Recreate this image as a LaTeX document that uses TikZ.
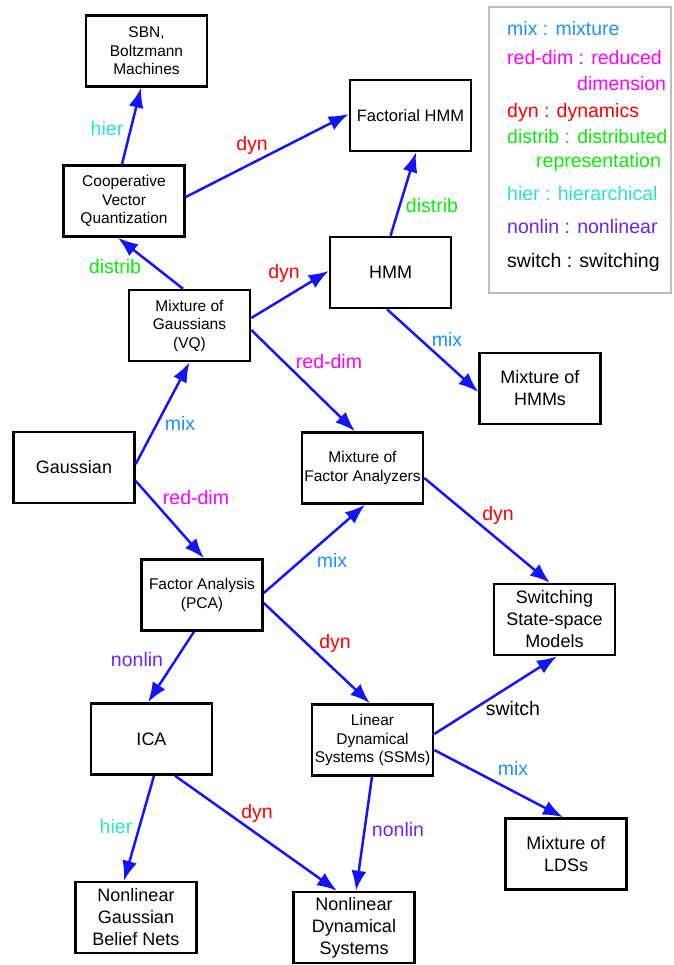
\documentclass[tikz,border=0pt]{standalone}
\usepackage{fontspec}
\setmainfont{Liberation Sans}
\usetikzlibrary{arrows.meta,calc}
\definecolor{arrblue}{RGB}{20,20,250}
\definecolor{cmix}{RGB}{30,144,255}
\definecolor{credd}{RGB}{255,0,255}
\definecolor{cdyn}{RGB}{255,0,0}
\definecolor{cdist}{RGB}{10,235,10}
\definecolor{chier}{RGB}{40,228,200}
\definecolor{cnonl}{RGB}{105,35,255}
\definecolor{clegend}{RGB}{190,190,190}
\newcommand{\smallf}{\fontsize{15.5}{18.5}\selectfont}
\newcommand{\midf}{\fontsize{16.5}{19.5}\selectfont}
\newcommand{\largef}{\fontsize{18}{22}\selectfont}
\newcommand{\labf}{\fontsize{19.5}{23}\selectfont}
\tikzset{
  box/.style={draw, line width=2.5pt, minimum width=121pt, minimum height=71pt, inner sep=0pt, align=center, font=\smallf},
  bigbox/.style={box, font=\largef},
  arr/.style={draw=arrblue, line width=2.5pt, -{Latex[length=20pt,width=15pt]}},
  lab/.style={font=\labf, inner sep=0pt},
  leg/.style={font=\labf, inner sep=0pt, anchor=base west}
}
\begin{document}
\begin{tikzpicture}[x=1pt,y=-1pt]
\useasboundingbox (0,0) rectangle (673,965);
% nodes
\node[box] (sbn) at (146.5,51) {SBN,\\Boltzmann\\Machines};
\node[box] (cvq) at (124,201) {Cooperative\\Vector\\Quantization};
\node[box, font=\midf] (fhmm) at (410.5,115.5) {Factorial HMM};
\node[bigbox] (hmm) at (390.5,272.5) {HMM};
\node[bigbox] (mhmm) at (540,388.5) {Mixture of\\HMMs};
\node[box] (mog) at (189.5,325.5) {Mixture of\\Gaussians\\(VQ)};
\node[box] (mfa) at (362.5,468) {Mixture of\\Factor Analyzers};
\node[bigbox] (gau) at (74,467.5) {Gaussian};
\node[box] (fa) at (202,595) {Factor Analysis\\(PCA)};
\node[bigbox] (sssm) at (554.5,619.5) {Switching\\State-space\\Models};
\node[box] (lds) at (372.5,740) {Linear\\Dynamical\\Systems (SSMs)};
\node[bigbox] (ica) at (151.5,739) {ICA};
\node[bigbox] (mlds) at (566,854) {Mixture of\\LDSs};
\node[bigbox] (ngbn) at (136,917.5) {Nonlinear\\Gaussian\\Belief Nets};
\node[bigbox] (nds) at (354,927.5) {Nonlinear\\Dynamical\\Systems};
% arrows
\draw[arr] ($(cvq.north)+(-2,0)$) -- ($(sbn.south)+(-5.5,0)$);
\draw[arr] ($(cvq.east)+(0,-4)$) -- ($(fhmm.west)+(0,-1.5)$);
\draw[arr] ($(mog.north)+(-6.5,0)$) -- ($(cvq.south)+(-6,0)$);
\draw[arr] ($(mog.east)+(0,-7.5)$) -- ($(hmm.west)+(0,-1.5)$);
\draw[arr] (hmm.north) -- ($(fhmm.south)+(5.5,0)$);
\draw[arr] ($(hmm.south)+(-3.5,0)$) -- ($(mhmm.west)+(0,3.5)$);
\draw[arr] ($(mog.east)+(0,4.5)$) -- ($(mfa.north)+(-7.5,0)$);
\draw[arr] ($(gau.east)+(0,-3.5)$) -- (mog.south);
\draw[arr] ($(gau.east)+(0,13.5)$) -- ($(fa.north)+(2,0)$);
\draw[arr] ($(fa.east)+(0,-2)$) -- ($(mfa.south)+(2.5,0)$);
\draw[arr] ($(fa.east)+(0,8)$) -- ($(lds.north)+(-2.5,0)$);
\draw[arr] ($(fa.south)+(-8,0)$) -- ($(ica.north)+(-3.5,0)$);
\draw[arr] ($(mfa.east)+(0,10)$) -- ($(sssm.north)+(-4.5,0)$);
\draw[arr] ($(lds.east)+(0,-6)$) -- ($(sssm.south)+(2.5,0)$);
\draw[arr] ($(lds.east)+(0,10)$) -- ($(mlds.north)+(-3,0)$);
\draw[arr] ($(lds.south)+(-0.5,0)$) -- ($(nds.north)+(2,0)$);
\draw[arr] ($(ica.south)+(2.5,0)$) -- ($(ngbn.north)+(-12,0)$);
\draw[arr] ($(ica.south)+(23.5,0)$) -- ($(nds.north)+(-17,0)$);
% edge labels
\node[lab, text=chier] (l1) at (107,129) {hier};
\node[lab, text=cdyn] (l2) at (252,145) {dyn};
\node[lab, text=cdist] (l3) at (115,267) {distrib};
\node[lab, text=cdyn] (l4) at (284,273) {dyn};
\node[lab, text=cdist] (l5) at (432,206) {distrib};
\node[lab, text=cmix] (l6) at (447,339) {mix};
\node[lab, text=credd] (l7) at (329,362) {red-dim};
\node[lab, text=cmix] (l8) at (180,423) {mix};
\node[lab, text=credd] (l9) at (196,498) {red-dim};
\node[lab, text=cmix] (l10) at (332,560) {mix};
\node[lab, text=cdyn] (l11) at (335,643) {dyn};
\node[lab, text=cnonl] (l12) at (137,660) {nonlin};
\node[lab, text=cdyn] (l13) at (498,515) {dyn};
\node[lab] (l14) at (513,709) {switch};
\node[lab, text=cmix] (l15) at (513,768) {mix};
\node[lab, text=cnonl] (l16) at (398,830) {nonlin};
\node[lab, text=chier] (l17) at (116,827) {hier};
\node[lab, text=cdyn] (l18) at (257,813) {dyn};
% legend
\node[draw=clegend, line width=2.5pt, minimum width=182pt, minimum height=286pt, inner sep=0pt] (legend) at (580,150) {};
\node[leg, text=cmix] (g1) at (507,36) {mix : mixture};
\node[leg, text=credd] (g2) at (507,65) {red-dim : reduced};
\node[leg, text=credd] (g3) at (577,91) {dimension};
\node[leg, text=cdyn] (g4) at (507,118) {dyn : dynamics};
\node[leg, text=cdist] (g5) at (507,144) {distrib : distributed};
\node[leg, text=cdist] (g6) at (536,168) {representation};
\node[leg, text=chier] (g7) at (507,201) {hier : hierarchical};
\node[leg, text=cnonl] (g8) at (507,234) {nonlin : nonlinear};
\node[leg] (g9) at (507,268) {switch : switching};
\end{tikzpicture}
\end{document}
